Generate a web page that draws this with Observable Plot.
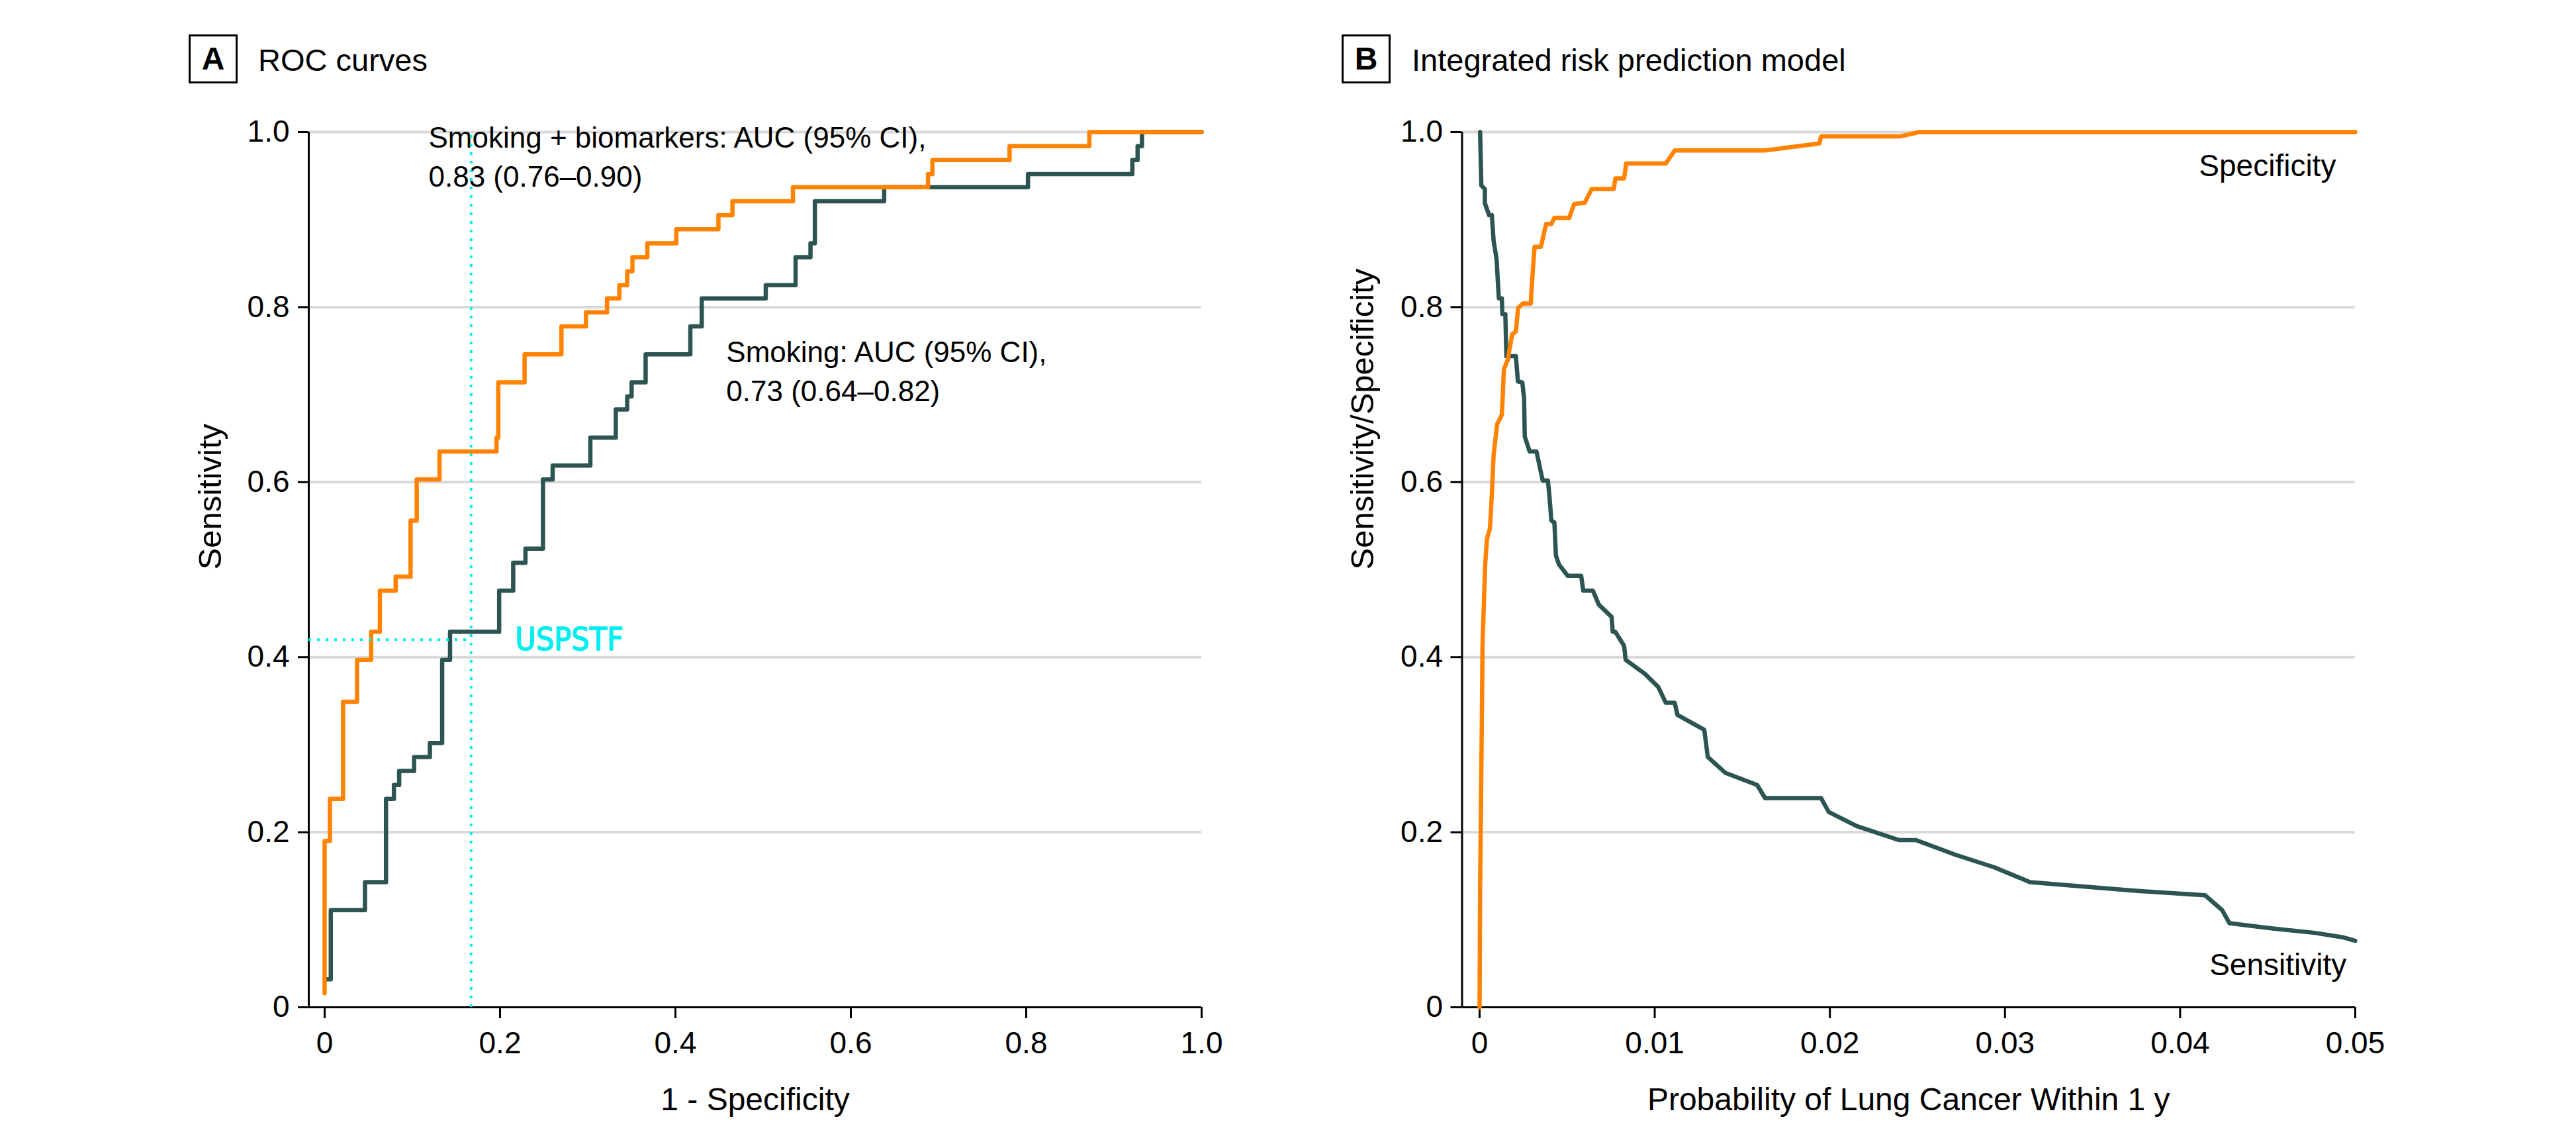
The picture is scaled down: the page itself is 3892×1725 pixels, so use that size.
<!DOCTYPE html>
<html>
<head>
<meta charset="utf-8">
<script src="https://cdn.jsdelivr.net/npm/d3@7"></script>
<script src="https://cdn.jsdelivr.net/npm/@observablehq/plot@0.6"></script>
<style>
  html, body { margin: 0; padding: 0; background: #fff; }
  #wrap { position: relative; width: 3892px; height: 1725px; font-family: "Liberation Sans", Arial, sans-serif; color: #000; overflow: hidden; }
  .panel { position: absolute; top: 0; }
  .tbox { position: absolute; top: 52px; width: 68px; height: 68px; border: 3px solid #000; font-weight: bold; font-size: 48px; text-align: center; line-height: 68px; }
  .ttl { position: absolute; top: 67px; font-size: 47px; line-height: 47px; white-space: nowrap; }
</style>
</head>
<body>
<div id="wrap">
  <div class="tbox" style="left:285px">A</div>
  <div class="ttl" style="left:390px">ROC curves</div>
  <div class="tbox" style="left:2027px">B</div>
  <div class="ttl" style="left:2133px">Integrated risk prediction model</div>
  <div id="pa" class="panel" style="left:0px"></div>
  <div id="pb" class="panel" style="left:1950px"></div>
</div>
<script>
// ---------- Panel A: ROC curves (1 - specificity, sensitivity) ----------
const fprBio  = [0, 0, 0.006, 0.021, 0.037, 0.053, 0.063, 0.081, 0.098, 0.105, 0.131, 0.196, 0.198, 0.228, 0.270, 0.298, 0.322, 0.336, 0.345, 0.351, 0.368, 0.401, 0.449, 0.465, 0.534, 0.688, 0.693, 0.781, 0.872, 1.0];
const sensBio = [0.016, 0.190, 0.238, 0.349, 0.397, 0.429, 0.476, 0.492, 0.556, 0.603, 0.635, 0.651, 0.714, 0.746, 0.778, 0.794, 0.810, 0.825, 0.841, 0.857, 0.873, 0.889, 0.905, 0.921, 0.937, 0.952, 0.968, 0.984, 1.0, 1.0];

const fprSmk  = [0.002, 0.007, 0.046, 0.070, 0.079, 0.085, 0.102, 0.120, 0.134, 0.143, 0.199, 0.215, 0.229, 0.249, 0.260, 0.303, 0.332, 0.345, 0.350, 0.366, 0.417, 0.430, 0.503, 0.537, 0.554, 0.559, 0.638, 0.802, 0.921, 0.927, 0.932, 1.0];
const sensSmk = [0.032, 0.111, 0.143, 0.238, 0.254, 0.270, 0.286, 0.302, 0.397, 0.429, 0.476, 0.508, 0.524, 0.603, 0.619, 0.651, 0.683, 0.698, 0.714, 0.746, 0.778, 0.810, 0.825, 0.857, 0.873, 0.921, 0.937, 0.952, 0.968, 0.984, 1.0, 1.0];

const uspstfFpr = 0.167;
const uspstfSens = 0.42;

const ticksA = [0, 0.2, 0.4, 0.6, 0.8, 1.0];
const labelBio = "Smoking + biomarkers: AUC (95% CI),\n0.83 (0.76\u20130.90)";
const labelSmk = "Smoking: AUC (95% CI),\n0.73 (0.64\u20130.82)";
const labelUspstf = "USPSTF";

// ---------- Panel B: integrated risk model (threshold probability) ----------
const probSpec = [0, 0.00003, 0.00012, 0.00017, 0.00025, 0.00032, 0.00042, 0.00059, 0.00071, 0.0008, 0.001, 0.00127, 0.00139, 0.00161, 0.00186, 0.00207, 0.0022, 0.00246, 0.00292, 0.003, 0.00314, 0.0035, 0.0038, 0.0041, 0.00427, 0.00512, 0.0054, 0.006, 0.0064, 0.00766, 0.00775, 0.00825, 0.00837, 0.01063, 0.01114, 0.0163, 0.0194, 0.0195, 0.024, 0.0251, 0.05];
const specVals = [0, 0.135, 0.31, 0.415, 0.464, 0.506, 0.535, 0.547, 0.589, 0.631, 0.666, 0.677, 0.729, 0.740, 0.769, 0.772, 0.799, 0.804, 0.804, 0.830, 0.869, 0.869, 0.895, 0.895, 0.902, 0.902, 0.918, 0.919, 0.935, 0.935, 0.947, 0.947, 0.964, 0.964, 0.979, 0.979, 0.987, 0.995, 0.995, 1.0, 1.0];

const probSens = [0.00003, 0.0001, 0.0003, 0.0003, 0.00054, 0.0007, 0.0008, 0.00097, 0.00105, 0.0011, 0.00127, 0.0013, 0.00147, 0.00153, 0.00207, 0.00219, 0.00244, 0.00254, 0.00258, 0.00286, 0.00325, 0.0036, 0.0039, 0.00398, 0.0041, 0.00427, 0.00436, 0.00453, 0.00503, 0.0058, 0.00592, 0.00647, 0.00681, 0.00754, 0.0076, 0.00775, 0.00825, 0.00834, 0.00944, 0.0102, 0.01063, 0.01114, 0.0113, 0.01283, 0.01303, 0.01402, 0.01585, 0.0163, 0.0195, 0.01994, 0.02154, 0.02396, 0.02492, 0.02721, 0.02938, 0.03143, 0.03443, 0.03757, 0.04142, 0.0424, 0.04282, 0.04528, 0.0477, 0.04927, 0.05];
const sensVals = [1.0, 0.939, 0.935, 0.919, 0.905, 0.905, 0.876, 0.855, 0.827, 0.810, 0.810, 0.792, 0.792, 0.744, 0.744, 0.715, 0.714, 0.696, 0.652, 0.635, 0.635, 0.602, 0.602, 0.586, 0.556, 0.554, 0.516, 0.506, 0.493, 0.493, 0.476, 0.476, 0.460, 0.446, 0.429, 0.429, 0.413, 0.397, 0.381, 0.366, 0.348, 0.348, 0.334, 0.317, 0.286, 0.268, 0.254, 0.239, 0.239, 0.223, 0.207, 0.191, 0.191, 0.174, 0.160, 0.143, 0.138, 0.133, 0.128, 0.111, 0.096, 0.090, 0.085, 0.080, 0.076];

const ticksBx = [0, 0.01, 0.02, 0.03, 0.04, 0.05];
const ticksBy = [0, 0.2, 0.4, 0.6, 0.8, 1.0];
const labelSpec = "Specificity";
const labelSens = "Sensitivity";

// ---------- styling ----------
const ORANGE = "#FF8200";
const TEAL = "#2C5552";
const CYAN = "#00EEF0";
const GRID = "#d9d9d9";
const FONT = "Liberation Sans, Arial, sans-serif";
const fmt1 = d => d === 0 ? "0" : d.toFixed(1);
const fmt2 = d => d === 0 ? "0" : d.toFixed(2);

const bio = fprBio.map((x, i) => ({x, y: sensBio[i]}));
const smk = fprSmk.map((x, i) => ({x, y: sensSmk[i]}));
const spec = probSpec.map((x, i) => ({x, y: specVals[i]}));
const sens = probSens.map((x, i) => ({x, y: sensVals[i]}));

const xMinA = -0.0181;
const plotA = Plot.plot({
  width: 1950, height: 1725,
  marginLeft: 466, marginRight: 135, marginTop: 199, marginBottom: 204,
  style: {fontFamily: FONT, background: "transparent", overflow: "visible", color: "#000"},
  x: {domain: [xMinA, 1]},
  y: {domain: [0, 1]},
  marks: [
    Plot.gridY(ticksA.filter(d => d > 0), {stroke: GRID, strokeOpacity: 1, strokeWidth: 4}),
    Plot.axisY(ticksA, {tickSize: 16, tickPadding: 13, fontSize: 46, tickFormat: fmt1, label: null, strokeWidth: 3}),
    Plot.axisX(ticksA, {tickSize: 17, tickPadding: 20, fontSize: 46, tickFormat: fmt1, label: null, strokeWidth: 3}),
    Plot.ruleX([xMinA], {strokeWidth: 3}),
    Plot.ruleY([0], {strokeWidth: 3}),
    Plot.line(smk, {x: "x", y: "y", curve: "step-after", stroke: TEAL, strokeWidth: 6.5}),
    Plot.line(bio, {x: "x", y: "y", curve: "step-after", stroke: ORANGE, strokeWidth: 6.5}),
    Plot.text([labelBio], {x: 0.1185, y: 1.0136, text: d => d, textAnchor: "start", lineAnchor: "top", fontSize: 44, lineHeight: 1.33}),
    Plot.text([labelSmk], {x: 0.458, y: 0.7685, text: d => d, textAnchor: "start", lineAnchor: "top", fontSize: 44, lineHeight: 1.33}),
    Plot.ruleX([uspstfFpr], {y1: 0, y2: 1, stroke: CYAN, strokeWidth: 4, strokeDasharray: "4,9"}),
    Plot.ruleY([uspstfSens], {x1: xMinA, x2: uspstfFpr, stroke: CYAN, strokeWidth: 4, strokeDasharray: "4,9"}),
    Plot.text([labelUspstf], {x: 0.217, y: uspstfSens, text: d => d, textAnchor: "start", lineAnchor: "middle", fontSize: 48, fill: CYAN, stroke: CYAN, strokeWidth: 1.5, fontFamily: "DejaVu Sans Condensed, DejaVu Sans, sans-serif"}),
    Plot.text(["1 - Specificity"], {frameAnchor: "bottom", dy: 140, lineAnchor: "middle", fontSize: 48}),
    Plot.text(["Sensitivity"], {frameAnchor: "left", dx: -148, rotate: -90, lineAnchor: "middle", fontSize: 49})
  ]
});
document.getElementById("pa").appendChild(plotA);

const xMinB = -0.001;
const plotB = Plot.plot({
  width: 1942, height: 1725,
  marginLeft: 258.5, marginRight: 334, marginTop: 199, marginBottom: 204,
  style: {fontFamily: FONT, background: "transparent", overflow: "visible", color: "#000"},
  x: {domain: [xMinB, 0.05]},
  y: {domain: [0, 1]},
  marks: [
    Plot.gridY(ticksBy.filter(d => d > 0), {stroke: GRID, strokeOpacity: 1, strokeWidth: 4}),
    Plot.axisY(ticksBy, {tickSize: 17, tickPadding: 12, fontSize: 46, tickFormat: fmt1, label: null, strokeWidth: 3}),
    Plot.axisX(ticksBx, {tickSize: 17, tickPadding: 20, fontSize: 46, tickFormat: fmt2, label: null, strokeWidth: 3}),
    Plot.ruleX([xMinB], {strokeWidth: 3}),
    Plot.ruleY([0], {strokeWidth: 3}),
    Plot.line(sens, {x: "x", y: "y", stroke: TEAL, strokeWidth: 6.5}),
    Plot.line(spec, {x: "x", y: "y", stroke: ORANGE, strokeWidth: 6.5}),
    Plot.text([labelSpec], {x: 0.0489, y: 0.9746, text: d => d, textAnchor: "end", lineAnchor: "top", fontSize: 46}),
    Plot.text([labelSens], {x: 0.0495, y: 0.0616, text: d => d, textAnchor: "end", lineAnchor: "top", fontSize: 46}),
    Plot.text(["Probability of Lung Cancer Within 1 y"], {frameAnchor: "bottom", dy: 140, lineAnchor: "middle", fontSize: 48}),
    Plot.text(["Sensitivity/Specificity"], {frameAnchor: "left", dx: -150, rotate: -90, lineAnchor: "middle", fontSize: 49})
  ]
});
document.getElementById("pb").appendChild(plotB);
</script>
</body>
</html>
